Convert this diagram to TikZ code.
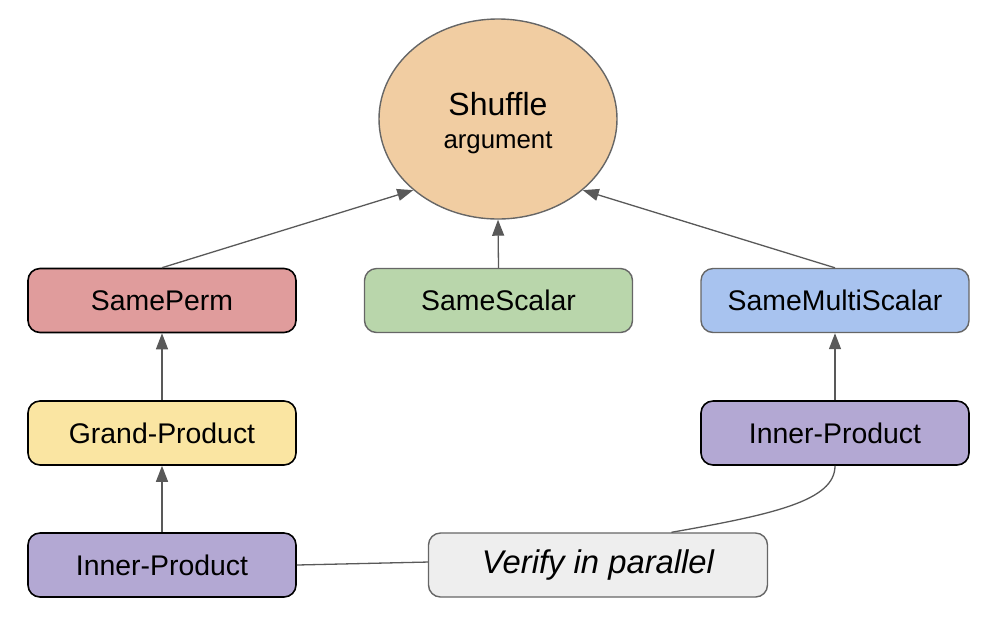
\documentclass[tikz,border=0pt]{standalone}
\usepackage{fontspec}
\setmainfont{Liberation Sans}
\usetikzlibrary{arrows.meta,shapes.geometric}

\definecolor{shuforange}{HTML}{F1CDA2}
\definecolor{permred}{HTML}{E09C9C}
\definecolor{scalargreen}{HTML}{B9D6AB}
\definecolor{multiblue}{HTML}{A8C3EF}
\definecolor{grandyellow}{HTML}{FAE5A2}
\definecolor{innerpurple}{HTML}{B3A8D3}
\definecolor{verifygrey}{HTML}{EEEEEE}
\definecolor{edgegrey}{HTML}{666666}
\definecolor{linkgrey}{HTML}{595959}

\begin{document}
\begin{tikzpicture}[x=0.5pt,y=-0.5pt,
  box/.style={draw=black,line width=0.8pt,rounded corners=6pt,minimum width=134pt,
    minimum height=32pt,inner sep=0pt,font=\fontsize{14.2}{17}\selectfont},
  greybox/.style={box,draw=edgegrey,line width=0.7pt},
  link/.style={draw=linkgrey,line width=0.65pt},
  arrow/.style={link,-{Triangle[length=8pt,width=6pt]}}]
  \useasboundingbox (0,0) rectangle (1006,618);
  % top of the tree
  \node[ellipse,draw=edgegrey,line width=0.7pt,fill=shuforange,minimum width=119pt,
    minimum height=100pt,inner sep=0pt,align=center,font=\fontsize{12.9}{16.7}\selectfont]
    (shuffle) at (498,119) {\rule{0pt}{15.7pt}{\fontsize{16}{19}\selectfont Shuffle}\\argument};
  % middle row
  \node[box,fill=permred] (perm) at (162,300.5) {SamePerm};
  \node[greybox,fill=scalargreen] (scalar) at (498.5,300.5) {SameScalar};
  \node[greybox,fill=multiblue] (multi) at (835,300.5) {SameMultiScalar};
  % lower rows
  \node[box,fill=grandyellow] (grand) at (162,433) {Grand-Product};
  \node[box,fill=innerpurple] (innerr) at (835,433) {Inner-Product};
  \node[box,fill=innerpurple] (innerl) at (162,565) {Inner-Product};
  \node[greybox,fill=verifygrey,minimum width=169.5pt,
    font=\itshape\fontsize{16.4}{19}\selectfont] (verify) at (598,565) {Verify in parallel};
  % arrows
  \draw[arrow] (perm.north) -- (shuffle.220);
  \draw[arrow] (scalar.north) -- (shuffle.south);
  \draw[arrow] (multi.north) -- (shuffle.320);
  \draw[arrow] (grand.north) -- (perm.south);
  \draw[arrow] (innerl.north) -- (grand.south);
  \draw[arrow] (innerr.north) -- (multi.south);
  % parallel links
  \draw[link] (innerl.east) -- (verify.179);
  \draw[link] (verify.24) .. controls +(102,-18) and +(0,35) .. (innerr.south);
\end{tikzpicture}
\end{document}
